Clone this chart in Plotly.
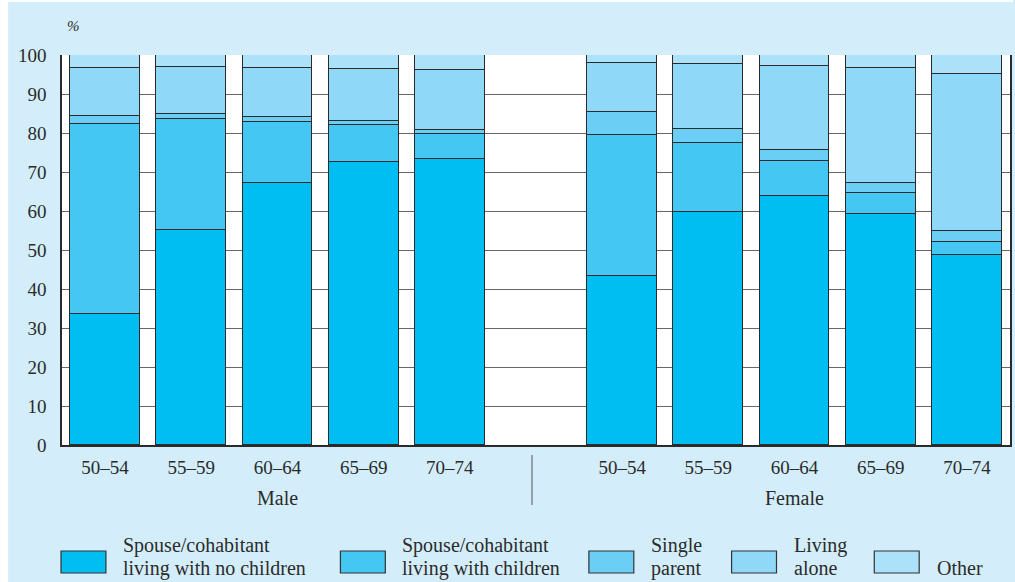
import plotly.graph_objects as go

# ---- data ----
age_groups = ["50–54", "55–59", "60–64", "65–69", "70–74"]
sexes = ["Male", "Female"]
series_names = [
    "Spouse/cohabitant<br>living with no children",
    "Spouse/cohabitant<br>living with children",
    "Single<br>parent",
    "Living<br>alone",
    "Other",
]
male_no_children = [33.6, 55.2, 67.1, 72.6, 73.4]
male_with_children = [48.7, 28.4, 15.7, 9.5, 6.3]
male_single_parent = [2.1, 1.4, 1.2, 0.9, 1.0]
male_living_alone = [12.3, 12.0, 12.7, 13.5, 15.4]
male_other = [3.3, 3.0, 3.3, 3.5, 3.9]

female_no_children = [43.3, 59.7, 63.9, 59.2, 48.8]
female_with_children = [36.2, 17.8, 9.0, 5.3, 3.3]
female_single_parent = [6.0, 3.4, 2.7, 2.8, 2.8]
female_living_alone = [12.4, 16.7, 21.7, 29.3, 40.2]
female_other = [2.1, 2.4, 2.7, 3.4, 4.9]

y_ticks = [0, 10, 20, 30, 40, 50, 60, 70, 80, 90, 100]

# ---- styling ----
colors = ["#00bdf2", "#45c7f4", "#6bcff5", "#8fd8f7", "#abe1f9"]
bg = "#d3eefa"
txt = "#2b2b2b"
font_family = "Liberation Serif"

male_x = [0, 1, 2, 3, 4]
female_x = [6, 7, 8, 9, 10]
x_all = male_x + female_x

male_series = [male_no_children, male_with_children, male_single_parent, male_living_alone, male_other]
female_series = [female_no_children, female_with_children, female_single_parent, female_living_alone, female_other]

fig = go.Figure()
for i in range(5):
    fig.add_trace(go.Bar(
        x=x_all,
        y=male_series[i] + female_series[i],
        marker=dict(color=colors[i], line=dict(color="#2a2a2a", width=1.2)),
        width=0.81,
        name=series_names[i].replace("<br>", " "),
        showlegend=False,
        hoverinfo="y",
    ))

W, H = 1015, 582
L, R, T, B = 62, 1012, 55, 445


def px_x(px):
    return (px - L) / (R - L)


def px_y(py):
    return (B - py) / (B - T)


shapes = []
annotations = []

# white strips at the left and top edges of the page
shapes.append(dict(type="rect", xref="paper", yref="paper", x0=px_x(0), x1=px_x(8),
                   y0=px_y(H), y1=px_y(0), fillcolor="white", line=dict(width=0), layer="below"))
shapes.append(dict(type="rect", xref="paper", yref="paper", x0=px_x(0), x1=px_x(W),
                   y0=px_y(2), y1=px_y(0), fillcolor="white", line=dict(width=0), layer="below"))

# divider between Male and Female
shapes.append(dict(type="line", xref="paper", yref="paper", x0=px_x(533), x1=px_x(533),
                   y0=px_y(455), y1=px_y(505), line=dict(color="#555", width=1)))

# group labels
annotations.append(dict(text=sexes[0], xref="x", yref="paper", x=2, y=px_y(498),
                        xanchor="center", yanchor="middle",
                        showarrow=False, font=dict(size=20, color=txt, family=font_family)))
annotations.append(dict(text=sexes[1], xref="x", yref="paper", x=8, y=px_y(498),
                        xanchor="center", yanchor="middle",
                        showarrow=False, font=dict(size=20, color=txt, family=font_family)))

# percent sign
annotations.append(dict(text="<i>%</i>", xref="paper", yref="paper", x=px_x(65), y=px_y(26),
                        xanchor="left", yanchor="middle", showarrow=False,
                        font=dict(size=15, color=txt, family=font_family)))

# custom legend
box_x = [61, 341, 590, 733, 876]
text_x = [121, 401, 650, 794, 937]
for i in range(5):
    shapes.append(dict(type="rect", xref="paper", yref="paper",
                       x0=px_x(box_x[i]), x1=px_x(box_x[i] + 45),
                       y0=px_y(573), y1=px_y(551),
                       fillcolor=colors[i], line=dict(color="#333", width=1.2)))
    lines = series_names[i].split("<br>")
    if len(lines) == 2:
        ys = [545, 568]
    else:
        ys = [568]
    for ln, yy in zip(lines, ys):
        annotations.append(dict(text=ln, xref="paper", yref="paper", x=px_x(text_x[i]), y=px_y(yy),
                                xanchor="left", yanchor="middle", showarrow=False,
                                font=dict(size=20, color=txt, family=font_family)))

fig.update_layout(
    width=W, height=H,
    barmode="stack",
    bargap=0,
    paper_bgcolor=bg,
    plot_bgcolor="white",
    margin=dict(l=L, r=W - R, t=T, b=H - B, pad=0),
    font=dict(family=font_family, color=txt, size=19),
    shapes=shapes,
    annotations=annotations,
    xaxis=dict(
        range=[-0.5, 10.5],
        tickmode="array",
        tickvals=x_all,
        ticktext=age_groups + age_groups,
        showgrid=False,
        zeroline=False,
        showline=True, linecolor="#2a2a2a", linewidth=1.5, mirror=False,
        ticks="", ticklabelstandoff=4,
        tickfont=dict(size=19, color=txt, family=font_family),
        fixedrange=True,
    ),
    yaxis=dict(
        range=[0, 100],
        tickmode="array",
        tickvals=y_ticks,
        showgrid=True, gridcolor="#666", gridwidth=1,
        zeroline=False,
        showline=True, linecolor="#2a2a2a", linewidth=1.5, mirror=True,
        ticks="", ticklabelstandoff=10,
        tickfont=dict(size=19, color=txt, family=font_family),
        fixedrange=True,
    ),
)

fig.write_html(
    "out.html",
    config={"displayModeBar": False},
    post_script="document.body.style.margin='0';document.body.style.overflow='hidden';",
)
